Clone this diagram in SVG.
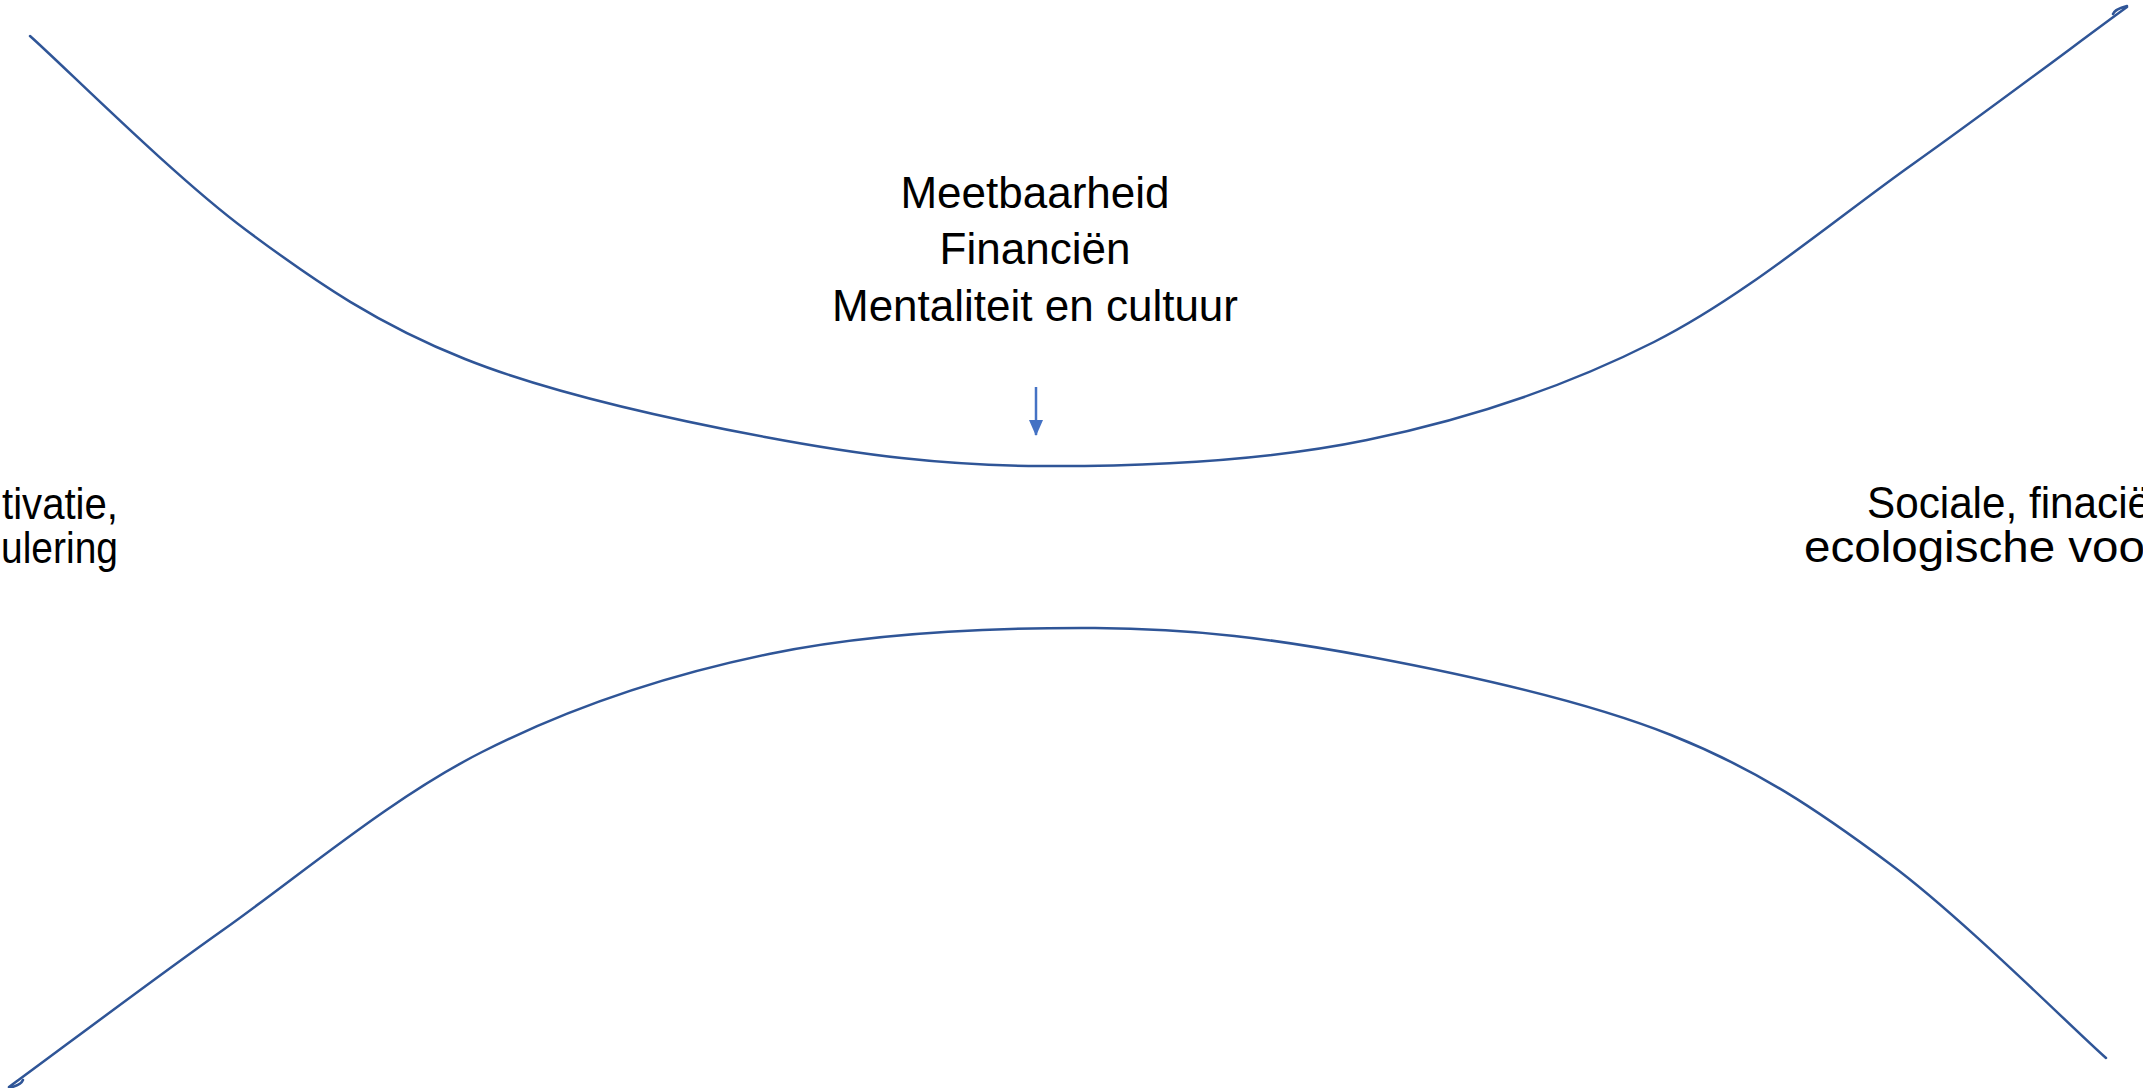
<svg xmlns="http://www.w3.org/2000/svg" width="2143" height="1088" viewBox="0 0 2143 1088">
<style>
.curve{fill:none;stroke:#2F5597;stroke-width:2.5;stroke-linecap:round;stroke-linejoin:round}
.lbl{font-family:"Liberation Sans",Arial,sans-serif;font-size:44px;fill:#000}
.arr{stroke:#4472C4;stroke-width:2.5;fill:none}
</style>
<defs>
<marker id="ah" viewBox="0 0 16 14" refX="15" refY="7" markerWidth="16" markerHeight="14" markerUnits="userSpaceOnUse" orient="auto">
<path d="M0 0 L16 7 L0 14 Z" fill="#4472C4"/>
</marker>
</defs>
<rect width="2143" height="1088" fill="#fff"/>
<g id="connectors">
<path id="upper" class="curve" d="M30 36 C66 68 173.5 176 246 230 C318.5 284 378.5 324.5 465 359 C551.5 393.5 669 419 765 437 C861 455 941 465.5 1041 466 C1141 466.5 1265 461 1367 440 C1469 419 1563 388 1654 342 C1745 296 1834 220 1913 164 C1992 108 2091 33 2127 7 M2113 14 Q2115 9 2127 6"/>
<path id="lower" class="curve" transform="rotate(180 1068 547)" d="M30 36 C66 68 173.5 176 246 230 C318.5 284 378.5 324.5 465 359 C551.5 393.5 669 419 765 437 C861 455 941 465.5 1041 466 C1141 466.5 1265 461 1367 440 C1469 419 1563 388 1654 342 C1745 296 1834 220 1913 164 C1992 108 2091 33 2127 7 M2113 14 Q2115 9 2127 6"/>
<line id="down-arrow" class="arr" x1="1036" y1="387" x2="1036" y2="435" marker-end="url(#ah)"/>
</g>
<g id="node-top" class="lbl" text-anchor="middle">
<text x="1035" y="208">Meetbaarheid</text>
<text x="1035" y="264">Financiën</text>
<text x="1035" y="321">Mentaliteit en cultuur</text>
</g>
<g id="node-left" class="lbl">
<text x="2" y="519" textLength="116" lengthAdjust="spacingAndGlyphs">tivatie,</text>
<text x="1" y="563" textLength="117" lengthAdjust="spacingAndGlyphs">ulering</text>
</g>
<g id="node-right" class="lbl">
<text x="1867" y="518" textLength="284" lengthAdjust="spacingAndGlyphs">Sociale, finacië</text>
<text x="1804" y="562" textLength="341" lengthAdjust="spacingAndGlyphs">ecologische voo</text>
</g>
</svg>
